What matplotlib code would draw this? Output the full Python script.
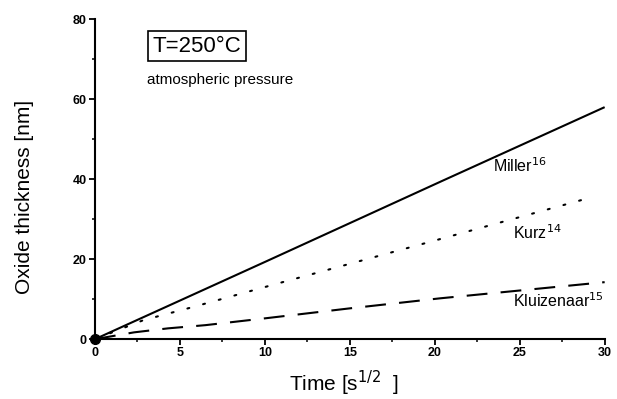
import matplotlib
matplotlib.use("Agg")
import matplotlib.pyplot as plt
from matplotlib.ticker import MultipleLocator

plt.rcParams["font.family"] = ["Liberation Sans", "DejaVu Sans"]
plt.rcParams["lines.scale_dashes"] = False

# values (x in s^1/2, y in nm)
miller_x = [0, 10, 20.3, 30]
miller_y = [0, 19.3, 39.3, 58]
kurz_x = [0, 2.85, 5.65, 10.4, 19.7, 29]
kurz_y = [0, 4.75, 7.9, 13.5, 24.3, 35.2]
kluiz_x = [0, 2.3, 4.3, 6.5, 10, 15, 20.3, 30]
kluiz_y = [0, 1.7, 2.7, 3.5, 5.2, 7.7, 10.2, 14.25]

fig = plt.figure(figsize=(6.17, 3.99), dpi=100)
ax = fig.add_axes([0.154, 0.15, 0.826, 0.802])

ax.plot(miller_x, miller_y, color="black", lw=1.5, solid_capstyle="butt")
ax.plot(kurz_x, kurz_y, color="black", lw=1.5, dashes=(1.4, 10.3),
        dash_capstyle="round")
ax.plot(kluiz_x, kluiz_y, color="black", lw=1.5, dashes=(15, 9.5))
ax.plot([0], [0], "o", color="black", ms=7, clip_on=False, zorder=5)

ax.set_xlim(0, 30)
ax.set_ylim(0, 80)
ax.xaxis.set_major_locator(MultipleLocator(5))
ax.xaxis.set_minor_locator(MultipleLocator(2.5))
ax.yaxis.set_major_locator(MultipleLocator(20))
ax.yaxis.set_minor_locator(MultipleLocator(10))
for s in ("top", "right"):
    ax.spines[s].set_visible(False)
for s in ("left", "bottom"):
    ax.spines[s].set_linewidth(1.5)
ax.tick_params(which="major", direction="out", length=4, width=1.3,
               labelsize=9, pad=2)
ax.tick_params(which="minor", direction="out", length=2.5, width=1.1)
for lab in ax.get_xticklabels() + ax.get_yticklabels():
    lab.set_fontweight("bold")

ax.text(6.0, 73.25, "T=250°C", fontsize=16, ha="center", va="center",
        bbox=dict(boxstyle="square,pad=0.2", fc="white", ec="black", lw=1.2))
ax.text(7.35, 64.75, "atmospheric pressure", fontsize=11, ha="center",
        va="center")
ax.text(23.4, 43.5, "Miller$^{16}$", fontsize=11.5, ha="left", va="center")
ax.text(24.6, 26.75, "Kurz$^{14}$", fontsize=11.5, ha="left", va="center")
ax.text(24.6, 9.75, "Kluizenaar$^{15}$", fontsize=11.5, ha="left", va="center")

fig.text(25 / 617, 1 - 197 / 399, "Oxide thickness [nm]", rotation=90,
         fontsize=15, ha="center", va="center")
fig.text(344 / 617, 1 - 383 / 399, "Time [s$^{1/2}$  ]", fontsize=15,
         ha="center", va="center")

fig.savefig("out.png", dpi=100, facecolor="white")
